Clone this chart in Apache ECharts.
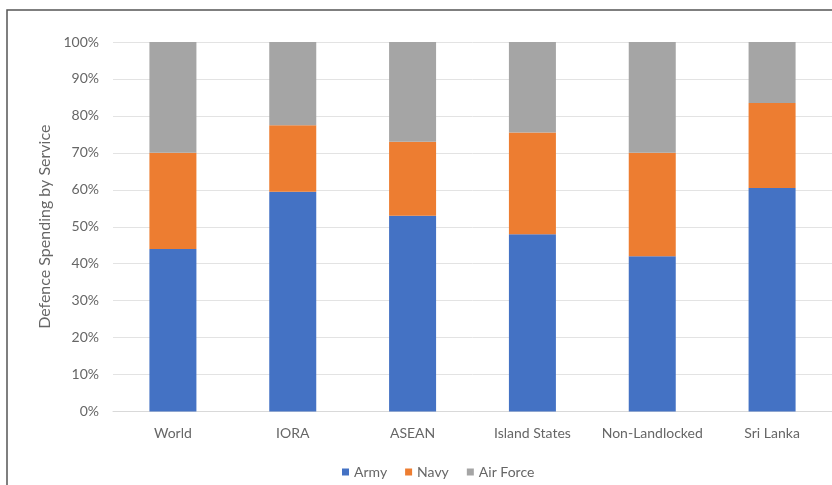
<!DOCTYPE html>
<html>
<head>
<meta charset="utf-8">
<script src="https://cdn.jsdelivr.net/npm/echarts@6/dist/echarts.min.js"></script>
<style>
  html, body { margin: 0; padding: 0; background: #ffffff; }
  #chart { width: 832px; height: 485px; }
</style>
</head>
<body>
<div id="chart"></div>
<script>
// Share of defence spending by service (percent of total)
const categories = ['World', 'IORA', 'ASEAN', 'Island States', 'Non-Landlocked', 'Sri Lanka'];
const army = [44, 59.5, 53, 48, 42, 60.5];
const navy = [26, 18, 20, 27.5, 28, 23];
const airForce = [30, 22.5, 27, 24.5, 30, 16.5];

const FONT = 'Lato, "Open Sans", sans-serif';
const TEXT = '#666666';

const chart = echarts.init(document.getElementById('chart'), null, { renderer: 'canvas' });

function barSeries(name, data, color) {
  return {
    name: name,
    type: 'bar',
    stack: 'total',
    data: data,
    barWidth: 47,
    itemStyle: { color: color },
    emphasis: { disabled: true }
  };
}

chart.setOption({
  animation: false,
  backgroundColor: '#ffffff',
  textStyle: { fontFamily: FONT },
  graphic: [{
    type: 'rect',
    shape: { x: 7, y: 10, width: 900, height: 600 },
    style: { fill: 'none', stroke: '#555555', lineWidth: 1.5 },
    silent: true
  }],
  grid: { left: 113, right: -4, top: 42, bottom: 73.5 },
  legend: {
    left: 337,
    top: 460,
    icon: 'rect',
    itemWidth: 7,
    itemHeight: 7,
    itemGap: 18,
    textStyle: { color: TEXT, fontSize: 14, fontFamily: FONT },
    data: ['Army', 'Navy', 'Air Force']
  },
  xAxis: {
    type: 'category',
    data: categories,
    axisLine: { lineStyle: { color: '#d9d9d9' } },
    axisTick: { show: false },
    axisLabel: { color: TEXT, fontSize: 14, margin: 15, interval: 0, fontFamily: FONT }
  },
  yAxis: {
    type: 'value',
    min: 0,
    max: 100,
    interval: 10,
    name: 'Defence Spending by Service',
    nameLocation: 'middle',
    nameGap: 59,
    nameTextStyle: { color: TEXT, fontSize: 16, fontFamily: FONT },
    axisLine: { show: false },
    axisTick: { show: false },
    axisLabel: { color: TEXT, fontSize: 14, margin: 14, formatter: '{value}%', fontFamily: FONT },
    splitLine: { lineStyle: { color: '#e3e3e3', width: 1 } }
  },
  series: [
    barSeries('Army', army, '#4472C4'),
    barSeries('Navy', navy, '#ED7D31'),
    barSeries('Air Force', airForce, '#A5A5A5')
  ]
});
</script>
</body>
</html>
